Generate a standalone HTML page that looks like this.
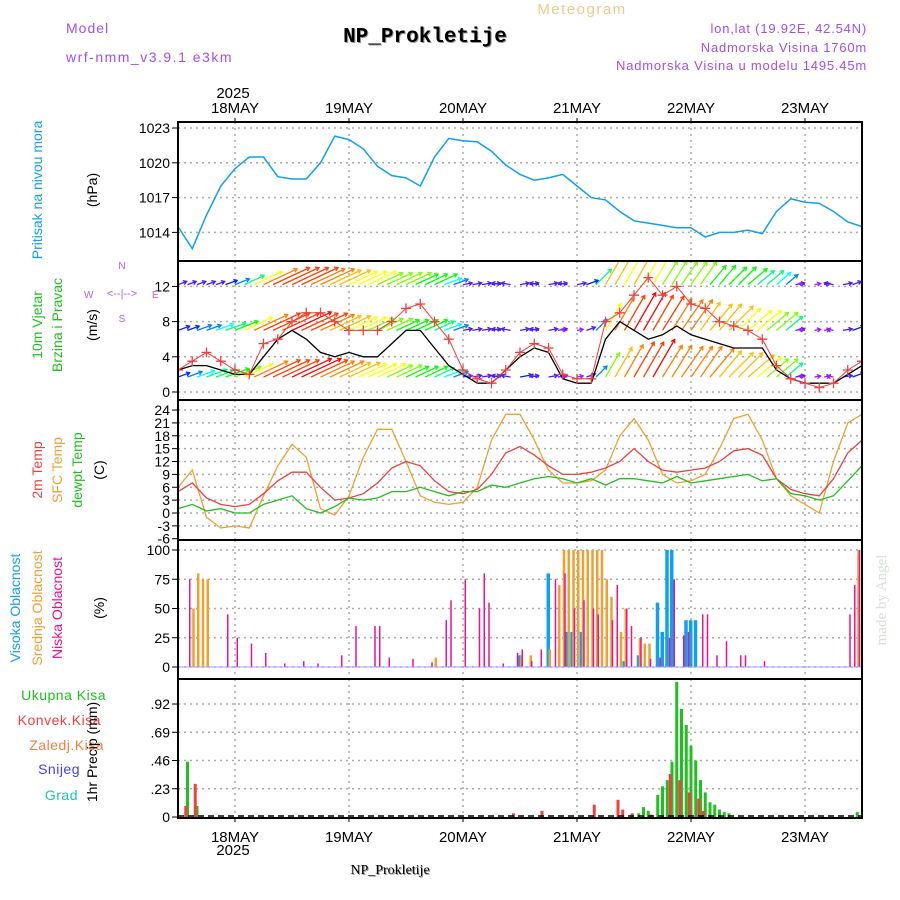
<!DOCTYPE html>
<html><head><meta charset="utf-8">
<style>
body{margin:0;background:#fff;width:900px;height:900px;overflow:hidden}
svg{display:block;font-family:"Liberation Sans",sans-serif}
</style></head><body>
<svg id="c" width="900" height="900" viewBox="0 0 900 900">
<text x="66" y="33" font-size="14" fill="#a050f0" letter-spacing="1">Model</text>
<text x="66" y="62" font-size="14" fill="#a050f0" letter-spacing="1.5">wrf-nmm_v3.9.1 e3km</text>
<text x="426" y="43" font-size="21" font-weight="bold" fill="#999" text-anchor="middle" font-family="Liberation Mono,monospace">NP_Prokletije</text>
<text x="425" y="42" font-size="21" font-weight="bold" fill="#000" text-anchor="middle" font-family="Liberation Mono,monospace">NP_Prokletije</text>
<text x="582" y="14" font-size="15" fill="#f0c890" text-anchor="middle" letter-spacing="1.5">Meteogram</text>
<text x="867" y="33" font-size="13" fill="#a050f0" text-anchor="end" letter-spacing="0.8">lon,lat (19.92E, 42.54N)</text>
<text x="867" y="52" font-size="13" fill="#a050f0" text-anchor="end" letter-spacing="0.8">Nadmorska Visina 1760m</text>
<text x="867" y="70" font-size="13" fill="#a050f0" text-anchor="end" letter-spacing="0.8">Nadmorska Visina u modelu 1495.45m</text>
<text x="233" y="98" font-size="15" fill="#000" text-anchor="middle">2025</text>
<g id="grid"></g><g id="marks"></g><g id="axes"></g>
<g font-size="14">
<text transform="translate(42,190) rotate(-90)" text-anchor="middle" fill="#10a0f0">Pritisak na nivou mora</text>
<text transform="translate(97,190) rotate(-90)" text-anchor="middle" fill="#000">(hPa)</text>
<text transform="translate(42,325) rotate(-90)" text-anchor="middle" fill="#20c020">10m Vjetar</text>
<text transform="translate(62,325) rotate(-90)" text-anchor="middle" fill="#20c020">Brzina i Pravac</text>
<text transform="translate(97,325) rotate(-90)" text-anchor="middle" fill="#000">(m/s)</text>
<g fill="#b060f0" font-size="10"><text x="84" y="298">W</text><text x="122" y="269" text-anchor="middle">N</text><text x="122" y="322" text-anchor="middle">S</text><text x="152" y="298">E</text><text x="122" y="297" text-anchor="middle" font-size="11">&lt;--|--&gt;</text></g>
<text transform="translate(42,470) rotate(-90)" text-anchor="middle" fill="#f04040">2m Temp</text>
<text transform="translate(62,470) rotate(-90)" text-anchor="middle" fill="#f0a030">SFC Temp</text>
<text transform="translate(82,470) rotate(-90)" text-anchor="middle" fill="#20c020">dewpt Temp</text>
<text transform="translate(104,470) rotate(-90)" text-anchor="middle" fill="#000">(C)</text>
<text transform="translate(20,608) rotate(-90)" text-anchor="middle" fill="#10a0f0">Visoka Oblacnost</text>
<text transform="translate(42,608) rotate(-90)" text-anchor="middle" fill="#f0a030">Srednja Oblacnost</text>
<text transform="translate(62,608) rotate(-90)" text-anchor="middle" fill="#f01090">Niska Oblacnost</text>
<text transform="translate(104,608) rotate(-90)" text-anchor="middle" fill="#000">(%)</text>
<g text-anchor="end" letter-spacing="0.5">
<text x="106" y="700" fill="#20c020">Ukupna Kisa</text>
<text x="101" y="725" fill="#f04040">Konvek.Kisa</text>
<text x="104" y="750" fill="#f08040">Zaledj.Kisa</text>
<text x="80" y="774" fill="#4040f0">Snijeg</text>
<text x="78" y="800" fill="#20c0c0">Grad</text></g>
<text transform="translate(97,752) rotate(-90)" text-anchor="middle" fill="#000">1hr Precip (mm)</text>
</g>
<text transform="translate(886,600) rotate(-90)" text-anchor="middle" font-size="15" fill="#d8e0d8" font-family="Liberation Serif,serif">made by Angel</text>
<text x="233" y="855" font-size="15" text-anchor="middle">2025</text>
<text x="391" y="875" font-size="14" fill="#999" text-anchor="middle" font-family="Liberation Serif,serif">NP_Prokletije</text>
<text x="390" y="874" font-size="14" fill="#000" text-anchor="middle" font-family="Liberation Serif,serif">NP_Prokletije</text>
</svg>
<script>
const dayLabels=["18MAY","19MAY","20MAY","21MAY","22MAY","23MAY"];
const dayHours=[12,36,60,84,108,132];
const pTicks=[1014,1017,1020,1023];
const wTicks=[0,4,8,12];
const tTicks=[-6,-3,0,3,6,9,12,15,18,21,24];
const cTicks=[0,25,50,75,100];
const rTicks=[0,0.23,0.46,0.69,0.92];
const pressure=[1014.5,1012.6,1015.5,1018.0,1019.5,1020.5,1020.5,1018.8,1018.6,1018.6,1020.0,1022.3,1022.0,1021.2,1019.7,1018.9,1018.7,1018.0,1020.5,1022.1,1021.9,1021.8,1021.0,1019.8,1019.0,1018.5,1018.7,1019.0,1018.0,1017.0,1016.8,1015.8,1015.0,1014.8,1014.6,1014.4,1014.4,1013.6,1014.0,1014.0,1014.2,1013.9,1015.8,1016.9,1016.6,1016.5,1015.8,1014.9,1014.5];
const windMax=[2.5,3.5,4.5,3.5,2.5,2,5.5,6,8,9,9,8,7,7,7,8,9.5,10,8,6,2.5,1.5,1,2.5,4.5,5.5,5,2,1.5,1.5,8,9,11,13,11,12,10,9.5,8,7.5,7,6,3,1.5,1,0.5,1,2.5,3.5];
const windMean=[2.5,3,3,2.5,2,2,4,6,7,6,4.5,4,4.5,4,4,5.5,7,7,5,3,2,1,1,2.5,4,5,4.5,1.5,1,1,6,8,7,6,6.5,7.5,6.5,6,5.5,5,5,5,2.5,1.5,1,1,1,2,3];
const temp2m=[5,7,3.5,2,1.5,2,4.5,7.5,9.5,9.5,6,3,3.5,4.5,7,10.5,12,11,7.5,5,4.5,5.5,9,14,15.5,13.5,11,9,9,9.5,10.5,12,15,12,10,9.5,10,10.5,12,14.5,15,13.5,8,5.5,4.5,4,8,14,17];
const tempSfc=[6,10,-1,-3.5,-3,-3.5,4,11,16,13,1,-0.5,4,13,19.5,19.5,12,4,2.5,2,2.5,6,17,23,23,17,10,7,7,7.5,10,18,22,17,9,7,7.5,9,15,22,23,17,8,4,2,0,12,21,23];
const tempDew=[1,2,0.5,1,0,0,2,3,4,1,0,1.5,3.5,3,3.5,5,5,6,5,4,5,5,6.5,6,7,8,8.5,8,7,8,6.5,8,8,7.5,7,8.5,7,7.5,8,8.5,9,7.5,8,4.5,4,3,4,7.5,11];
const windLowLvl=[4,5,6,7,7,8,9,10,12,13,13,13,14,14,13,12,12,11,11,10,10,10,9,9,8,8,8,7,6,5,3,3,3,3,3,3,4,3,3,3,3,2,2,3,5,9,11,12,13,13,14,12,12,12,12,12,12,11,11,11,11,10,9,9,7,3,2,2,2,2,3,4,5];
const windMidLvl=[4,4,5,5,6,7,8,10,12,13,13,13,14,13,13,12,11,11,10,10,9,9,9,8,8,8,8,7,6,5,3,3,3,3,3,3,3,3,3,3,3,2,2,3,5,10,12,13,14,14,13,13,12,12,12,11,11,11,11,10,10,10,9,9,7,3,2,2,2,2,3,4,5];
const windTopLvl=[3,3,3,3,3,4,5,7,10,12,13,13,13,13,12,12,11,11,10,10,10,9,9,9,9,8,8,8,6,5,3,3,3,3,3,3,3,3,3,3,3,3,3,4,7,11,11,10,11,10,10,9,9,9,9,9,8,8,8,8,8,7,7,6,5,3,2,2,2,3,3,3,4];
const windDir=[20,20,20,20,20,20,22,25,25,25,25,25,25,25,25,25,25,25,25,25,25,25,25,25,25,25,25,25,20,20,10,10,10,10,170,170,10,10,170,10,10,170,10,20,45,60,60,60,60,60,60,58,58,55,55,55,50,50,45,45,40,40,40,40,40,10,170,10,10,170,10,20,30];
const lowCloudH=[2,10,12,15,18,22,26,29,34,37,41,42,44,49,53,56,57,60,63,64,65,68,71,72,74,76,79,81,83,85,87,88,91,92,94,95,97,99,101,103,104,106,107,110,111,113,115,118,119,123,141,142,143];
const lowCloud=[75,45,25,20,12,3,5,3,10,35,35,35,8,7,4,40,57,75,50,80,55,3,12,15,5,15,75,80,50,57,50,45,40,70,50,35,25,7,8,25,75,27,30,45,45,10,22,10,10,5,45,70,100];
const midCloudH=[3,4,5,6,54,72,74,78,80,81,82,83,84,85,86,87,88,89,90,91,93,94,97,98,99,143];
const midCloud=[50,80,75,75,8,10,10,15,70,100,100,100,100,100,100,100,100,100,75,60,30,50,25,20,20,100];
const highCloudH=[72,78,82,83,85,94,97,101,102,103,104,107,108,109];
const highCloud=[10,80,30,30,30,5,10,55,30,100,100,40,40,40];
const totalPrecipH=[2,4,97,98,99,101,102,103,104,105,106,107,108,109,110,111,112,113,114,115,116,143];
const totalPrecip=[0.45,0.09,0.03,0.08,0.05,0.18,0.25,0.3,0.45,1.1,0.88,0.75,0.58,0.46,0.3,0.2,0.12,0.1,0.06,0.04,0.03,0.04];
const convPrecipH=[1,3,70,76,87,92,93,95,99,103,105,107,109,110];
const convPrecip=[0.09,0.27,0.03,0.05,0.1,0.14,0.06,0.03,0.02,0.35,0.3,0.2,0.15,0.05];

const L=178,R=862,NS="http://www.w3.org/2000/svg";
const X=h=>L+h*4.75;
const Yp=p=>128+(1023-p)*11.6;
const Yw=v=>392-v*8.8;
const Yt=t=>513-t*4.29;
const Yc=c=>667-c*1.17;
const Yr=r=>817-r*122.8;
const panels=[[122,261],[261,400],[400,540],[540,679],[679,818]];
const grid=document.getElementById('grid'),marks=document.getElementById('marks'),axes=document.getElementById('axes');
function mk(p,tag,at){const e=document.createElementNS(NS,tag);for(const k in at)e.setAttribute(k,at[k]);p.appendChild(e);return e;}
const defs=mk(document.getElementById('c'),'defs',{});
panels.forEach((p,i)=>{const cp=mk(defs,'clipPath',{id:'cp'+i});mk(cp,'rect',{x:L,y:p[0],width:R-L,height:p[1]-p[0]});});
panels.forEach(p=>{dayHours.forEach(h=>{
 const g=mk(grid,'line',{x1:X(h),x2:X(h),y1:p[0],y2:p[1],stroke:'#aaa','stroke-dasharray':'2,4','stroke-width':1.5});
 
 });});
function hgrid(ticks,f,pi,fmt){ticks.forEach(t=>{const y=f(t);
 if(y>panels[pi][0]+3&&y<panels[pi][1]-3){const g=mk(grid,'line',{x1:L,x2:R,y1:y,y2:y,stroke:'#aaa','stroke-dasharray':'2,4','stroke-width':1.5});
 
 }
 const tx=mk(axes,'text',{x:170,y:y+5,'font-size':14,'text-anchor':'end'});tx.textContent=fmt(t);
 
 
 mk(axes,'line',{x1:172,x2:L,y1:y,y2:y,stroke:'#000'});});}
hgrid(pTicks,Yp,0,String);hgrid(wTicks,Yw,1,String);hgrid(tTicks,Yt,2,String);hgrid(cTicks,Yc,3,String);hgrid(rTicks,Yr,4,v=>v===0?'0':v.toFixed(2).replace(/^0/,''));
function line(p,vals,f,step,col,w,clip,name){const d=vals.map((v,i)=>(i?'L':'M')+X(i*step).toFixed(1)+','+f(v).toFixed(1)).join('');
 const e=mk(marks,'path',{d,fill:'none',stroke:col,'stroke-width':w,'clip-path':'url(#cp'+clip+')'});
 
 return e;}
line(0,pressure,Yp,3,'#10a0f0',1.5,0,'pressure-line');
function hueOf(s){const k=[[2,275],[5,210],[8,120],[10,60],[12,30],[14,0],[16,-30]];if(s<=2)return 275;for(let i=1;i<k.length;i++){if(s<=k[i][0]){const a=k[i-1],b=k[i];return a[1]+(b[1]-a[1])*(s-a[0])/(b[0]-a[0]);}}return -30;}
function arrows(spd,base,name){const g=mk(marks,'g',{'clip-path':'url(#cp1)'});
 
 
 spd.forEach((s,i)=>{const x0=X(i*2),y0=Yw(base),a=windDir[i]*Math.PI/180,len=Math.max(6,s*3.1);
  const x1=x0+Math.cos(a)*len,y1=y0-Math.sin(a)*len,col='hsl('+((hueOf(s)+360)%360)+',100%,'+(s<=3?'55%':'50%')+')';
  mk(g,'line',{x1:x0,y1:y0,x2:x1,y2:y1,stroke:col,'stroke-width':1.3});
  const b1=a+2.6,b2=a-2.6;
  mk(g,'path',{d:`M${x1+Math.cos(b1)*4},${y1-Math.sin(b1)*4}L${x1},${y1}L${x1+Math.cos(b2)*4},${y1-Math.sin(b2)*4}`,stroke:col,fill:'none','stroke-width':1.3});});}
arrows(windLowLvl,1.7,'wind-arrows-low');arrows(windMidLvl,7,'wind-arrows-mid');arrows(windTopLvl,12.2,'wind-arrows-top');
line(1,windMean,Yw,3,'#000',1.3,1,'wind-mean-line');
line(1,windMax,Yw,3,'#f04040',1,1,'wind-gust-line');
windMax.forEach((v,i)=>{const x=X(i*3),y=Yw(v);const c=mk(marks,'path',{d:`M${x-5},${y}H${x+5}M${x},${y-5}V${y+5}`,stroke:'#f04040','stroke-width':1.3,'clip-path':'url(#cp1)'});
 
 });
line(2,tempSfc,Yt,3,'#f0a030',1.3,2,'sfc-temp-line');
line(2,temp2m,Yt,3,'#f04040',1.3,2,'temp-2m-line');
line(2,tempDew,Yt,3,'#20c020',1.3,2,'dewpoint-line');
function bars(hs,vals,f,col,off,w,name){vals.forEach((v,i)=>{const y=f(v),b=f(0);
 const r=mk(marks,'rect',{x:X(hs[i])+off,y:y,width:w,height:b-y,fill:col});
 
 });}
bars(highCloudH,highCloud,Yc,'#10a0f0',-2,3.5,'high-cloud-bar');
bars(midCloudH,midCloud,Yc,'#f0a030',0,2.5,'mid-cloud-bar');
bars(lowCloudH,lowCloud,Yc,'#f01090',1.5,1.5,'low-cloud-bar');
mk(marks,'line',{x1:L,x2:R,y1:Yc(0),y2:Yc(0),stroke:'#a0a0ff','stroke-width':1});
bars(totalPrecipH,totalPrecip,Yr,'#20c020',-1.5,3,'total-precip-bar');
bars(convPrecipH,convPrecip,Yr,'#f04040',1.5,3,'convective-precip-bar');
mk(marks,'line',{x1:L,x2:R,y1:816,y2:816,stroke:'#000','stroke-dasharray':'6,4','stroke-width':1.5});
panels.forEach(p=>{const r=mk(axes,'rect',{x:L,y:p[0],width:R-L,height:p[1]-p[0],fill:'none',stroke:'#000','stroke-width':2});
 
 });
dayHours.forEach((h,i)=>{[[108,'top'],[837,'bottom']].forEach(([y,k])=>{
 const t=mk(axes,'text',{x:X(h),y:y+5,'font-size':15,'text-anchor':'middle'});t.textContent=dayLabels[i];
 
 });
 mk(axes,'line',{x1:X(h),x2:X(h),y1:118,y2:122,stroke:'#000'});mk(axes,'line',{x1:X(h),x2:X(h),y1:818,y2:822,stroke:'#000'});});
</script>
</body></html>
